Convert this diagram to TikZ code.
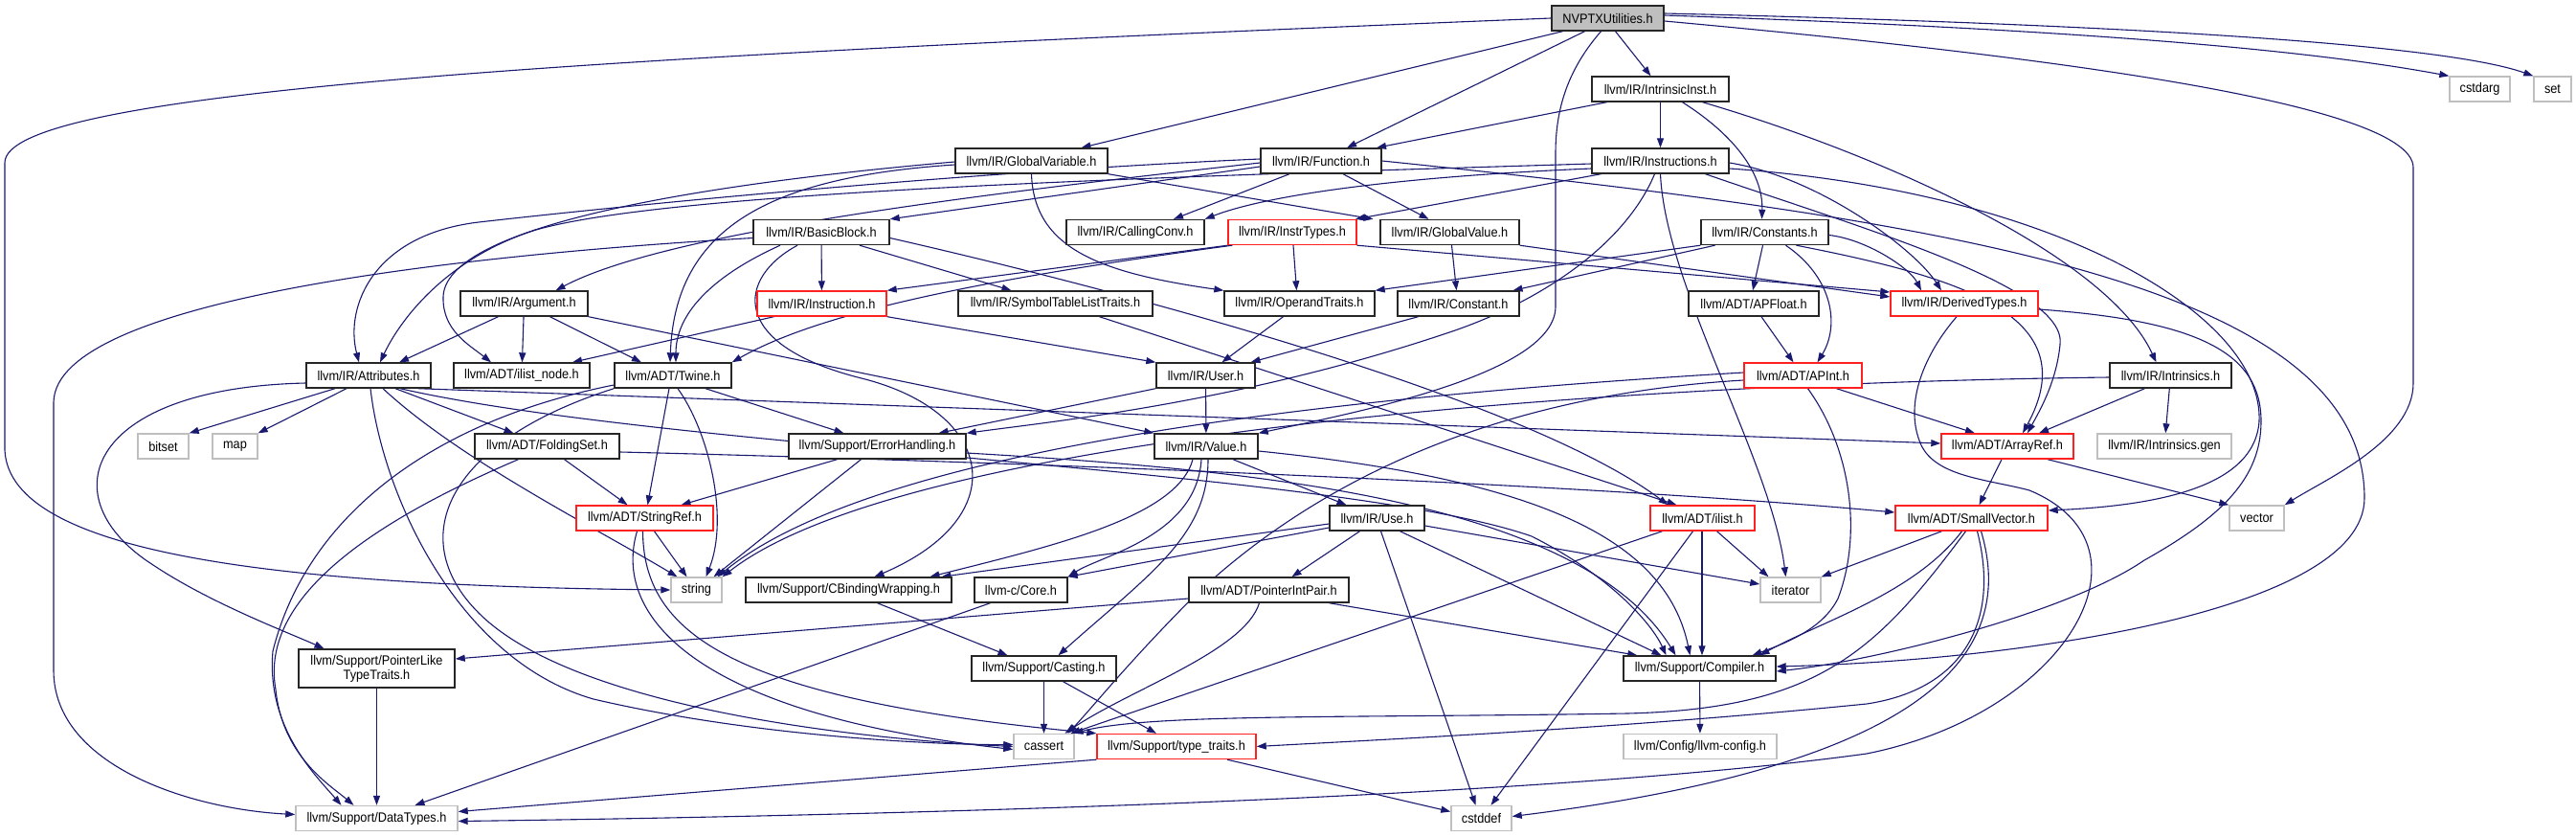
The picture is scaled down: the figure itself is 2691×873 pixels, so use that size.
\documentclass[tikz,border=0pt]{standalone}
\usepackage{fontspec}
\setmainfont{Liberation Sans}[FakeStretch=0.91]
\usetikzlibrary{arrows.meta}
\pgfdeclarelayer{edgelayer}
\pgfsetlayers{edgelayer,main}
\definecolor{edgec}{HTML}{191970}
\definecolor{redb}{HTML}{FF2020}
\definecolor{grayb}{HTML}{BFBFBF}
\newcommand\nfont{\fontsize{14}{15}\selectfont}
\tikzset{
 box/.style={draw=black!85, line width=1.4pt, minimum height=26pt, inner sep=0pt, font=\nfont, fill=white},
 redbox/.style={box, draw=redb},
 graybox/.style={box, draw=grayb},
 arr/.style={draw=edgec, line width=1.1pt, -{Triangle[length=10pt,width=7pt]}},
}
\begin{document}
\begin{tikzpicture}[x=1pt,y=-1pt]
\useasboundingbox (0,0) rectangle (2691,873);
% ---------- nodes ----------
\node[box, fill=grayb, minimum width=117pt] (N) at (1679.5,19) {NVPTXUtilities.h};
\node[box, minimum width=143pt] (II) at (1734.5,93) {llvm/IR/IntrinsicInst.h};
\node[graybox, minimum width=63pt] (cstdarg) at (2590.5,93) {cstdarg};
\node[graybox, minimum width=39pt] (nset) at (2666.5,93) {set};
\node[box, minimum width=159pt] (GV) at (1077.5,168) {llvm/IR/GlobalVariable.h};
\node[box, minimum width=126pt] (F) at (1380,168) {llvm/IR/Function.h};
\node[box, minimum width=143pt] (IS) at (1734.5,168) {llvm/IR/Instructions.h};
\node[box, minimum width=142pt] (BB) at (858,242.5) {llvm/IR/BasicBlock.h};
\node[box, minimum width=144pt] (CC) at (1186,242.5) {llvm/IR/CallingConv.h};
\node[redbox, minimum width=134pt] (IT) at (1350,242.5) {llvm/IR/InstrTypes.h};
\node[box, minimum width=145pt] (GVal) at (1514.5,242.5) {llvm/IR/GlobalValue.h};
\node[box, minimum width=133pt] (C) at (1843.5,242.5) {llvm/IR/Constants.h};
\node[box, minimum width=133pt] (A) at (547.5,317) {llvm/IR/Argument.h};
\node[redbox, minimum width=135pt] (I) at (858.5,317) {llvm/IR/Instruction.h};
\node[box, minimum width=203pt] (STLT) at (1102.5,317) {llvm/IR/SymbolTableListTraits.h};
\node[box, minimum width=157pt] (OT) at (1357.5,317) {llvm/IR/OperandTraits.h};
\node[box, minimum width=127pt] (Cn) at (1523.5,317) {llvm/IR/Constant.h};
\node[box, minimum width=136pt] (APF) at (1832,317) {llvm/ADT/APFloat.h};
\node[redbox, minimum width=154pt] (DT) at (2052,317) {llvm/IR/DerivedTypes.h};
\node[box, minimum width=130pt] (Attr) at (385,392) {llvm/IR/Attributes.h};
\node[box, minimum width=142pt] (iln) at (545,392) {llvm/ADT/ilist\_node.h};
\node[box, minimum width=122pt] (Tw) at (703,392) {llvm/ADT/Twine.h};
\node[box, minimum width=103pt] (User) at (1259.5,392) {llvm/IR/User.h};
\node[redbox, minimum width=123pt] (APInt) at (1883.5,392) {llvm/ADT/APInt.h};
\node[box, minimum width=127pt] (Intr) at (2267.5,392) {llvm/IR/Intrinsics.h};
\node[graybox, minimum width=53pt] (nbitset) at (170.5,466) {bitset};
\node[graybox, minimum width=47pt] (nmap) at (245.5,466) {map};
\node[box, minimum width=151pt] (FS) at (571.5,466) {llvm/ADT/FoldingSet.h};
\node[box, minimum width=185pt] (EH) at (916.5,466) {llvm/Support/ErrorHandling.h};
\node[box, minimum width=108pt] (Val) at (1260,466) {llvm/IR/Value.h};
\node[redbox, minimum width=138pt] (AR) at (2097,466) {llvm/ADT/ArrayRef.h};
\node[graybox, minimum width=140pt] (Igen) at (2261,466) {llvm/IR/Intrinsics.gen};
\node[redbox, minimum width=143pt] (SR) at (673.5,541) {llvm/ADT/StringRef.h};
\node[box, minimum width=99pt] (Use) at (1438.5,541) {llvm/IR/Use.h};
\node[redbox, minimum width=109pt] (il) at (1778.5,541) {llvm/ADT/ilist.h};
\node[redbox, minimum width=159pt] (SV) at (2059.5,541) {llvm/ADT/SmallVector.h};
\node[graybox, minimum width=57pt] (vec) at (2357.5,541) {vector};
\node[graybox, minimum width=53pt] (str) at (727.5,616) {string};
\node[box, minimum width=215pt] (CBW) at (886.5,616) {llvm/Support/CBindingWrapping.h};
\node[box, minimum width=97pt] (Core) at (1066.5,616) {llvm-c/Core.h};
\node[box, minimum width=167pt] (PIP) at (1325.5,616) {llvm/ADT/PointerIntPair.h};
\node[graybox, minimum width=63pt] (iter) at (1870.5,616) {iterator};
\node[box, minimum width=163pt, minimum height=40pt, align=center] (PLTT) at (393.5,698) {llvm/Support/PointerLike\\TypeTraits.h};
\node[box, minimum width=151pt] (Cast) at (1090.5,698) {llvm/Support/Casting.h};
\node[box, minimum width=159pt] (Comp) at (1775.5,698) {llvm/Support/Compiler.h};
\node[graybox, minimum width=63pt] (cassert) at (1090.5,779.5) {cassert};
\node[redbox, minimum width=166pt] (tt) at (1229,779.5) {llvm/Support/type\_traits.h};
\node[graybox, minimum width=160pt] (cfg) at (1776,779.5) {llvm/Config/llvm-config.h};
\node[graybox, minimum width=169pt] (DTy) at (393.5,854.5) {llvm/Support/DataTypes.h};
\node[graybox, minimum width=63pt] (cstddef) at (1547.5,854.5) {cstddef};
% ---------- edges ----------
\begin{pgfonlayer}{edgelayer}
\fill[white] (0,0) rectangle (2691,873);
% NVPTXUtilities.h
\draw[arr] (N.west) .. controls (600,60) and (5,95) .. (5,170) -- (5,470) .. controls (10,580) and (300,612) .. (str.west);
\draw[arr] ([xshift=-47pt]N.south) -- ([xshift=52pt]GV.north);
\draw[arr] ([xshift=-24pt]N.south) -- ([xshift=27pt]F.north);
\draw[arr] ([xshift=-7pt]N.south) .. controls (1640,70) and (1625,110) .. (1625,160) -- (1625,320) .. controls (1625,390) and (1420,430) .. (Val.north east);
\draw[arr] ([xshift=8pt]N.south) -- ([xshift=-10pt]II.north);
\draw[arr] ([yshift=3pt]N.east) .. controls (2150,30) and (2400,50) .. (cstdarg.north west);
\draw[arr] ([yshift=5pt]N.east) .. controls (2200,25) and (2550,45) .. (nset.north west);
\draw[arr] ([yshift=-3pt]N.east) .. controls (2100,55) and (2521,105) .. (2521,175) -- (2521,400) .. controls (2521,460) and (2430,500) .. (vec.north east);
% IntrinsicInst.h
\draw[arr] ([xshift=-56pt]II.south) -- ([xshift=58pt]F.north);
\draw[arr] (II) -- (IS);
\draw[arr] ([xshift=23pt]II.south) .. controls (1810,140) and (1842,180) .. ([xshift=-3pt]C.north);
\draw[arr] ([xshift=44pt]II.south) .. controls (1960,160) and (2200,265) .. ([xshift=-15pt]Intr.north);
% Function.h
\draw[arr] ([yshift=-6pt]F.west) -- (BB.north east);
\draw[arr] ([xshift=-33pt]F.south) -- ([xshift=40pt]CC.north);
\draw[arr] ([yshift=-2pt]F.west) .. controls (1050,200) and (700,240) .. ([xshift=33pt]A.north);
\draw[arr] ([yshift=2pt]F.west) .. controls (1000,180) and (650,215) .. (500,232) .. controls (390,245) and (360,320) .. ([xshift=-10pt]Attr.north);
\draw[arr] ([xshift=23pt]F.south) -- ([xshift=-22pt]GVal.north);
\draw[arr] (F.east) .. controls (2050,230) and (2470,300) .. (2470,520) .. controls (2470,640) and (2100,690) .. ([yshift=2pt]Comp.east);
% GlobalVariable.h
\draw[arr] ([yshift=-4pt]GV.west) .. controls (800,185) and (705,240) .. ([xshift=-3pt]Tw.north);
\draw[arr] ([yshift=-1pt]GV.west) .. controls (700,195) and (465,240) .. (463,310) .. controls (462,345) and (490,360) .. ([xshift=-32pt]iln.north);
\draw[arr] (GV.south) .. controls (1080,260) and (1150,285) .. (OT.north west);
\draw[arr] (GV.south east) -- ([xshift=-80pt]GVal.north);
% Instructions.h
\draw[arr] ([yshift=-8pt]IS.west) .. controls (1450,185) and (1320,205) .. (CC.north east);
\draw[arr] ([yshift=-3pt]IS.west) .. controls (1200,185) and (700,200) .. (560,240) .. controls (470,268) and (420,330) .. ([xshift=12pt]Attr.north);
\draw[arr] ([xshift=-62pt]IS.south) -- ([xshift=66pt]IT.north);
\draw[arr] ([xshift=-6pt]IS.south) .. controls (1700,250) and (1620,310) .. (1520,345) .. controls (1300,420) and (1100,440) .. (EH.north east);
\draw[arr] (IS.south) .. controls (1740,300) and (1850,480) .. ([xshift=-5pt]iter.north);
\draw[arr] ([xshift=47pt]IS.south) .. controls (1950,240) and (2160,300) .. (2152,360) .. controls (2148,400) and (2130,430) .. ([xshift=21pt]AR.north);
\draw[arr] ([yshift=-2pt]IS.east) .. controls (1900,185) and (2000,260) .. ([xshift=-24pt]DT.north);
\draw[arr] ([yshift=-8pt]IS.east) .. controls (2150,200) and (2365,330) .. (2360,440) .. controls (2355,510) and (2250,528) .. ([yshift=8pt]SV.east);
% Constants.h
\draw[arr] ([xshift=-2pt]C.south) -- ([xshift=-1pt]APF.north);
\draw[arr] ([xshift=22pt]C.south) .. controls (1915,290) and (1922,340) .. ([xshift=15pt]APInt.north);
\draw[arr] ([xshift=33pt]C.south) .. controls (2050,290) and (2180,330) .. ([xshift=16pt]AR.north);
\draw[arr] ([yshift=-3pt]C.east) .. controls (1950,250) and (1995,280) .. ([xshift=-45pt]DT.north);
\draw[arr] ([xshift=-52pt]C.south) -- ([xshift=57pt]Cn.north);
\draw[arr] (C.south west) -- (OT.north east);
% InstrTypes.h
\draw[arr] ([xshift=1pt]IT.south) -- ([xshift=-3pt]OT.north);
\draw[arr] (IT.south west) -- (I.north east);
\draw[arr] ([xshift=5pt]IT.south west) .. controls (1000,295) and (850,330) .. (Tw.north east);
\draw[arr] (IT.south east) -- ([yshift=12pt]DT.west);
% GlobalValue.h
\draw[arr] ([xshift=2pt]GVal.south) -- ([xshift=-2pt]Cn.north);
\draw[arr] (GVal.south east) -- ([yshift=7pt]DT.west);
% BasicBlock.h
\draw[arr] ([yshift=-6pt]BB.west) .. controls (500,265) and (58,310) .. (56,420) -- (56,700) .. controls (56,800) and (200,845) .. ([yshift=4pt]DTy.west);
\draw[arr] ([xshift=-43pt]BB.south) .. controls (740,290) and (706,330) .. ([xshift=3pt]Tw.north);
\draw[arr] ([xshift=-25pt]BB.south) .. controls (770,290) and (760,360) .. (900,395) .. controls (1040,430) and (1060,540) .. ([xshift=27pt]CBW.north);
\draw[arr] (BB) -- (I);
\draw[arr] ([xshift=40pt]BB.south) -- ([xshift=-46pt]STLT.north);
\draw[arr] ([yshift=-6pt]BB.east) .. controls (1200,310) and (1600,420) .. ([xshift=-36pt]il.north);
% Argument.h
\draw[arr] ([xshift=-27pt]A.south) -- ([xshift=32pt]Attr.north);
\draw[arr] (A) -- (iln);
\draw[arr] ([xshift=27pt]A.south) -- ([xshift=-33pt]Tw.north);
\draw[arr] (A.south east) -- (Val.north west);
% Instruction.h
\draw[arr] ([xshift=-50pt]I.south) -- ([xshift=53pt]iln.north);
\draw[arr] (I.south east) -- (User.north west);
% SymbolTableListTraits, OperandTraits, Constant, APFloat
\draw[arr] ([xshift=46pt]STLT.south) -- ([xshift=-27pt]il.north);
\draw[arr] ([xshift=-17pt]OT.south) -- ([xshift=17pt]User.north);
\draw[arr] ([xshift=-42pt]Cn.south) -- ([xshift=47pt]User.north);
\draw[arr] ([xshift=8pt]APF.south) -- ([xshift=-10pt]APInt.north);
% User.h
\draw[arr] (User.south west) -- ([xshift=64pt]EH.north);
\draw[arr] (User) -- (Val);
% Twine.h
\draw[arr] ([xshift=-4pt]Tw.south) -- ([xshift=3pt]SR.north);
\draw[arr] ([xshift=5pt]Tw.south) .. controls (740,450) and (762,540) .. ([xshift=10pt]str.north);
\draw[arr] ([xshift=34pt]Tw.south) -- ([xshift=-35pt]EH.north);
\draw[arr] ([yshift=-10pt]Tw.west) .. controls (450,440) and (320,540) .. (285,680) .. controls (278,760) and (330,810) .. ([xshift=-37pt]DTy.north);
\draw[arr] (Tw.south west) .. controls (470,460) and (420,560) .. (500,640) .. controls (600,740) and (900,772) .. (cassert.west);
% Attributes.h
\draw[arr] ([xshift=-35pt]Attr.south) -- (nbitset.north east);
\draw[arr] ([xshift=-23pt]Attr.south) -- (nmap.north east);
\draw[arr] ([yshift=-8pt]Attr.west) .. controls (90,405) and (50,520) .. (160,590) .. controls (220,630) and (300,660) .. ([xshift=-55pt]PLTT.north);
\draw[arr] ([xshift=28pt]Attr.south) -- ([xshift=-35pt]FS.north);
\draw[arr] ([xshift=52pt]Attr.south) -- ([yshift=3pt]AR.west);
\draw[arr] ([xshift=33pt]Attr.south) .. controls (700,470) and (1400,490) .. (1600,560) .. controls (1680,600) and (1725,650) .. ([xshift=-35pt]Comp.north);
\draw[arr] ([xshift=2pt]Attr.south) .. controls (400,520) and (480,690) .. (620,730) .. controls (800,772) and (1000,778) .. ([yshift=2pt]cassert.west);
\draw[arr] ([xshift=15pt]Attr.south) .. controls (480,480) and (620,550) .. ([xshift=-20pt]str.north);
% FoldingSet.h
\draw[arr] ([xshift=18pt]FS.south) -- ([xshift=-18pt]SR.north);
\draw[arr] ([xshift=-30pt]FS.south) .. controls (400,540) and (270,620) .. (288,720) .. controls (295,790) and (345,820) .. ([xshift=-24pt]DTy.north);
\draw[arr] ([yshift=-6pt]FS.east) .. controls (900,478) and (1600,500) .. ([yshift=6pt]SV.west);
% StringRef.h
\draw[arr] ([xshift=10pt]SR.south) -- ([xshift=-10pt]str.north);
\draw[arr] ([xshift=-8pt]SR.south) .. controls (640,640) and (720,745) .. ([yshift=-3pt]cassert.west);
\draw[arr] ([xshift=-2pt]SR.south) .. controls (672,660) and (760,730) .. (tt.north west);
% ErrorHandling.h
\draw[arr] ([xshift=-42pt]EH.south) -- ([xshift=38pt]SR.north);
\draw[arr] ([xshift=-17pt]EH.south) -- ([xshift=18pt]str.north);
\draw[arr] ([yshift=-7pt]EH.east) .. controls (1300,490) and (1650,520) .. ([xshift=-25pt]Comp.north);
% Value.h
\draw[arr] ([xshift=28pt]Val.south) -- ([xshift=-32pt]Use.north);
\draw[arr] ([xshift=-14pt]Val.south) .. controls (1230,540) and (1100,570) .. ([xshift=85pt]CBW.north);
\draw[arr] ([xshift=-5pt]Val.south) .. controls (1250,560) and (1150,580) .. (Core.north east);
\draw[arr] ([xshift=2pt]Val.south) .. controls (1262,560) and (1200,600) .. ([xshift=15pt]Cast.north);
\draw[arr] ([yshift=-5pt]Val.east) .. controls (1600,500) and (1740,560) .. ([xshift=-10pt]Comp.north);
% Use.h
\draw[arr] ([xshift=-18pt]Use.south) -- ([xshift=24pt]PIP.north);
\draw[arr] ([xshift=4pt]Use.south) -- ([xshift=-6pt]cstddef.north);
\draw[arr] ([xshift=24pt]Use.south) -- ([xshift=-40pt]Comp.north);
\draw[arr] ([yshift=-8pt]Use.east) -- ([yshift=6pt]iter.west);
\draw[arr] ([yshift=-6pt]Use.west) -- ([xshift=97pt]CBW.north);
\draw[arr] ([yshift=-10pt]Use.west) -- (Core.north east);
% others
\draw[arr] ([xshift=-32pt]Core.south) -- ([xshift=40pt]DTy.north);
\draw[arr] ([xshift=30pt]CBW.south) -- ([xshift=-38pt]Cast.north);
\draw[arr] ([yshift=-9pt]PIP.west) -- ([yshift=10pt]PLTT.east);
\draw[arr] ([xshift=-10pt]PIP.south) .. controls (1300,680) and (1180,720) .. ([xshift=22pt]cassert.north);
\draw[arr] ([xshift=63pt]PIP.south) -- ([xshift=15pt]Comp.north west);
\draw[arr] (Cast) -- (cassert);
\draw[arr] ([xshift=20pt]Cast.south) -- ([xshift=-21pt]tt.north);
\draw[arr] (tt.south west) -- ([yshift=7pt]DTy.east);
\draw[arr] ([xshift=53pt]tt.south) -- ([yshift=7pt]cstddef.west);
\draw[arr] (Comp) -- (cfg);
\draw[arr] ([xshift=-42pt]il.south) -- ([xshift=28pt]cassert.north);
\draw[arr] ([xshift=-10pt]il.south) -- ([xshift=10pt]cstddef.north);
\draw[arr] ([xshift=-0.5pt]il.south) -- ([xshift=2.5pt]Comp.north);
\draw[arr] ([xshift=15pt]il.south) -- ([xshift=-23pt]iter.north);
% APInt.h
\draw[arr] ([xshift=35pt]APInt.south) -- ([xshift=-34pt]AR.north);
\draw[arr] ([xshift=5pt]APInt.south) .. controls (1935,470) and (1945,560) .. (1920,625) .. controls (1905,655) and (1870,670) .. ([xshift=55pt]Comp.north);
\draw[arr] ([yshift=3pt]APInt.west) .. controls (1300,420) and (900,480) .. ([xshift=22pt]str.north);
\draw[arr] ([yshift=-5pt]APInt.west) .. controls (1600,410) and (1400,480) .. (1250,620) .. controls (1180,690) and (1140,740) .. ([xshift=25pt]cassert.north);
% Intrinsics.h
\draw[arr] ([xshift=-27pt]Intr.south) -- ([xshift=33pt]AR.north);
\draw[arr] (Intr) -- (Igen);
\draw[arr] ([yshift=-2pt]Intr.west) .. controls (1700,400) and (950,450) .. (str.north east);
% ArrayRef.h
\draw[arr] ([xshift=-6pt]AR.south) -- ([xshift=8pt]SV.north);
\draw[arr] ([xshift=42pt]AR.south) -- (vec.north west);
% SmallVector.h
\draw[arr] ([xshift=-31pt]SV.south) -- (iter.north east);
\draw[arr] ([xshift=-10pt]SV.south) .. controls (2000,620) and (1900,650) .. ([xshift=63pt]Comp.north);
\draw[arr] ([xshift=-6pt]SV.south) .. controls (1960,680) and (1900,740) .. (1700,745) .. controls (1400,750) and (1200,745) .. ([xshift=31pt]cassert.north);
\draw[arr] ([xshift=6pt]SV.south) .. controls (2090,650) and (2050,720) .. (1950,735) .. controls (1700,760) and (1450,772) .. (tt.east);
\draw[arr] ([xshift=10pt]SV.south) .. controls (2110,690) and (2000,800) .. ([yshift=2pt]cstddef.east);
% DerivedTypes.h
\draw[arr] ([xshift=-8pt]DT.south) .. controls (2010,370) and (1990,420) .. (2005,460) .. controls (2018,498) and (2075,500) .. (2120,512) .. controls (2260,570) and (2160,745) .. (1950,787) .. controls (1600,835) and (900,852) .. ([yshift=-3pt]DTy.east);
\draw[arr] ([yshift=-6pt]DT.east) .. controls (2300,335) and (2362,370) .. (2362,440) .. controls (2362,500) and (2320,540) .. (2240,585) .. controls (2160,640) and (1960,690) .. ([yshift=-3pt]Comp.east);
% PointerLikeTypeTraits
\draw[arr] (PLTT) -- (DTy);
\end{pgfonlayer}
\end{tikzpicture}
\end{document}
